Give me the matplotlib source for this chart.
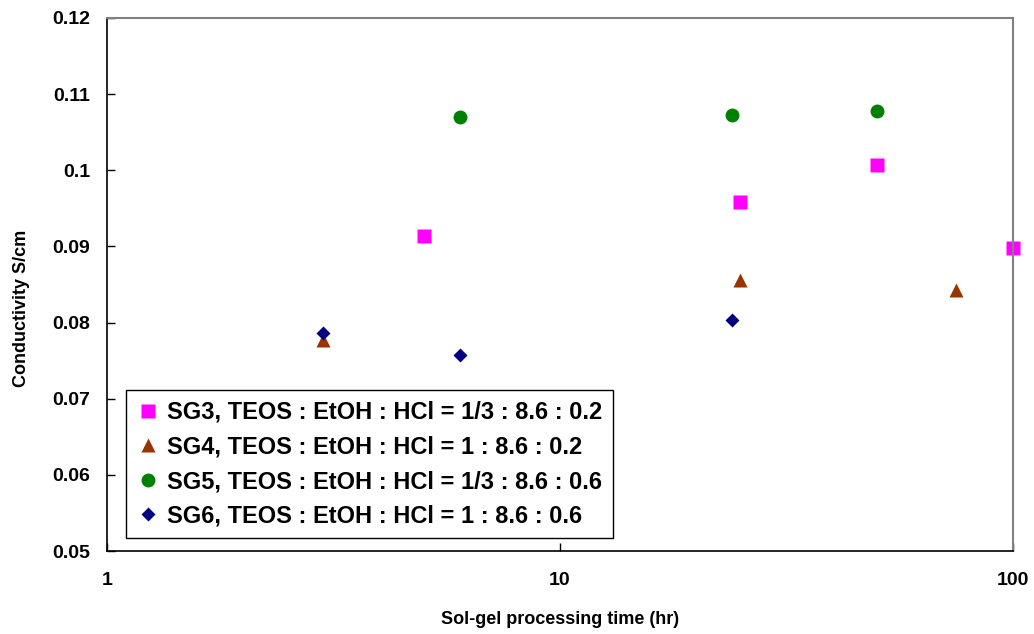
import matplotlib.pyplot as plt
import numpy as np

plt.rcParams["font.family"] = ["Liberation Sans", "DejaVu Sans"]
plt.rcParams["font.weight"] = "bold"

# processing time (hr) and conductivity (S/cm) per sample series
sg3_time = [5, 25, 50, 100]
sg3_cond = [0.0914, 0.0958, 0.1007, 0.0898]

sg4_time = [3, 25, 75]
sg4_cond = [0.0777, 0.0856, 0.0843]

sg5_time = [6, 24, 50]
sg5_cond = [0.1070, 0.1073, 0.1078]

sg6_time = [3, 6, 24]
sg6_cond = [0.0786, 0.0757, 0.0803]

labels = [
    "SG3, TEOS : EtOH : HCl = 1/3 : 8.6 : 0.2",
    "SG4, TEOS : EtOH : HCl = 1 : 8.6 : 0.2",
    "SG5, TEOS : EtOH : HCl = 1/3 : 8.6 : 0.6",
    "SG6, TEOS : EtOH : HCl = 1 : 8.6 : 0.6",
]

fig = plt.figure(figsize=(10.34, 6.34), dpi=100)
ax = fig.add_axes([107 / 1034, 1 - 551 / 634, 906 / 1034, 533 / 634])

ax.plot(sg3_time, sg3_cond, "s", color="#FF00FF", ms=10, mec="none", label=labels[0], clip_on=False)
ax.plot(sg4_time, sg4_cond, "^", color="#993300", ms=10, mec="none", label=labels[1], clip_on=False)
ax.plot(sg5_time, sg5_cond, "o", color="#008000", ms=10, mec="none", label=labels[2], clip_on=False)
ax.plot(sg6_time, sg6_cond, "D", color="#000080", ms=7.5, mec="none", label=labels[3], clip_on=False)

ax.set_xscale("log")
ax.set_xlim(1, 100)
ax.set_ylim(0.05, 0.12)
ax.set_xticks([1, 10, 100])
ax.set_xticklabels(["1", "10", "100"])
ax.xaxis.set_minor_locator(plt.NullLocator())
ax.set_yticks(np.arange(0.05, 0.1201, 0.01))
ax.set_yticklabels(["0.05", "0.06", "0.07", "0.08", "0.09", "0.1", "0.11", "0.12"])

ax.tick_params(axis="both", direction="in", length=6, width=1, labelsize=14)
ax.tick_params(axis="x", pad=15)
ax.tick_params(axis="y", pad=12)

for side in ["top", "right"]:
    ax.spines[side].set_color("#808080")
    ax.spines[side].set_linewidth(1.5)
for side in ["left", "bottom"]:
    ax.spines[side].set_color("black")
    ax.spines[side].set_linewidth(1.2)

ax.set_xlabel("Sol-gel processing time (hr)", fontsize=13, fontweight="bold")
ax.set_ylabel("Conductivity S/cm", fontsize=13, fontweight="bold")
ax.xaxis.set_label_coords(0.5, -(611 - 551) / 533)
ax.yaxis.set_label_coords(-(107 - 30) / 906, (551 - 308) / 533)

leg = ax.legend(loc="lower left", bbox_to_anchor=(0.021, 0.024), borderaxespad=0,
                fancybox=False, edgecolor="black", framealpha=1, fontsize=17,
                handlelength=1.0, handletextpad=0.3, labelspacing=0.49,
                borderpad=0.45)
leg.get_frame().set_linewidth(1)

fig.savefig("out.png", dpi=100)
